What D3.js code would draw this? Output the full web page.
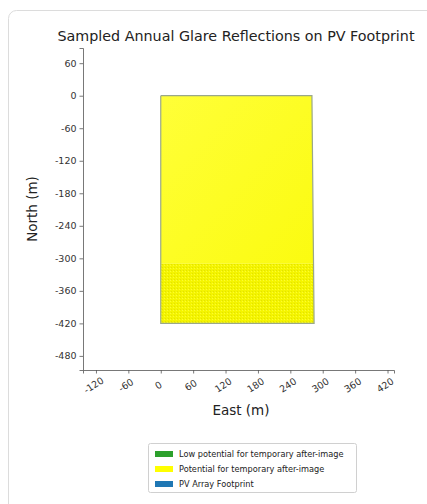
<!DOCTYPE html>
<html>
<head>
<meta charset="utf-8">
<script src="https://cdn.jsdelivr.net/npm/d3@7"></script>
<style>
  body { margin: 0; background: #fff; }
  svg { display: block; font-family: "DejaVu Sans", sans-serif; }
</style>
</head>
<body>
<svg id="chart" width="427" height="504"></svg>
<script>
// footprint outline (east, north in metres)
var footprintEast = [0, 280, 284, 0, 0];
var footprintNorth = [0, 0, -420, -420, 0];

// glare reflection zones
var upperZoneEast = [0, 280, 283, 0];
var upperZoneNorth = [0, 0, -310, -310];
var lowerZoneEast = [0, 283, 284, 0];
var lowerZoneNorth = [-310, -310, -420, -420];

var xTicks = [-120, -60, 0, 60, 120, 180, 240, 300, 360, 420];
var yTicks = [60, 0, -60, -120, -180, -240, -300, -360, -420, -480];

var legendLabels = ["Low potential for temporary after-image", "Potential for temporary after-image", "PV Array Footprint"];
var legendColors = ["#2ca02c", "#ffff00", "#1f77b4"];

var svg = d3.select("#chart");

// outer rounded frame
svg.append("rect")
	.attr("x", 8.5).attr("y", 10.5)
	.attr("width", 440).attr("height", 520)
	.attr("rx", 8)
	.attr("fill", "none")
	.attr("stroke", "#dcdcdc");

var x = d3.scaleLinear().domain([-144, 432]).range([83, 394]);
var y = d3.scaleLinear().domain([88, -506]).range([48, 370]);

var defs = svg.append("defs");
var pat = defs.append("pattern")
	.attr("id", "stipple")
	.attr("width", 3).attr("height", 3)
	.attr("patternUnits", "userSpaceOnUse");
pat.append("rect").attr("width", 3).attr("height", 3).attr("fill", "#f4f400");
pat.append("rect").attr("x", 0).attr("y", 0).attr("width", 1).attr("height", 1).attr("fill", "#e2e200");
pat.append("rect").attr("x", 2).attr("y", 1).attr("width", 1).attr("height", 1).attr("fill", "#fcfc30");

var grad = defs.append("linearGradient")
	.attr("id", "upperGrad")
	.attr("x1", 0).attr("y1", 0).attr("x2", 1).attr("y2", 1);
grad.append("stop").attr("offset", "0%").attr("stop-color", "#ffff38");
grad.append("stop").attr("offset", "100%").attr("stop-color", "#fbfb10");

function polyPoints(ex, no) {
	return ex.map(function(d, i) { return [x(d), y(no[i])]; });
}
var line = d3.line();

svg.append("path")
	.attr("d", line(polyPoints(upperZoneEast, upperZoneNorth)) + "Z")
	.attr("fill", "url(#upperGrad)");
svg.append("path")
	.attr("d", line(polyPoints(lowerZoneEast, lowerZoneNorth)) + "Z")
	.attr("fill", "url(#stipple)");
svg.append("path")
	.attr("d", line(polyPoints(footprintEast, footprintNorth)))
	.attr("fill", "none")
	.attr("stroke", "#9aa88a")
	.attr("stroke-width", 1.2);

// axes
var fmt = function(d) { return String(d); };
var yAxis = svg.append("g")
	.attr("transform", "translate(" + 83 + ",0)")
	.call(d3.axisLeft(y).tickValues(yTicks).tickFormat(fmt).tickSize(3.5).tickPadding(3));
var xAxis = svg.append("g")
	.attr("transform", "translate(0," + 370 + ")")
	.call(d3.axisBottom(x).tickValues(xTicks).tickFormat(fmt).tickSize(3.5).tickPadding(3));

[xAxis, yAxis].forEach(function(g) {
	g.select(".domain").attr("stroke", "#555").attr("stroke-width", 0.8);
	g.selectAll(".tick line").attr("stroke", "#555").attr("stroke-width", 0.8);
	g.selectAll(".tick text").attr("fill", "#333").style("font-size", "9.5px").style("font-family", "DejaVu Sans, sans-serif");
});

xAxis.selectAll(".tick text")
	.attr("text-anchor", "middle")
	.attr("dy", null)
	.attr("y", 0)
	.attr("transform", "translate(-1,18) rotate(-33)");

// titles
svg.append("text")
	.attr("x", 236).attr("y", 41)
	.attr("text-anchor", "middle")
	.style("font-size", "14.3px")
	.attr("fill", "#222")
	.text("Sampled Annual Glare Reflections on PV Footprint");

svg.append("text")
	.attr("transform", "translate(37,209) rotate(-90)")
	.attr("text-anchor", "middle")
	.style("font-size", "13.5px")
	.attr("fill", "#222")
	.text("North (m)");

svg.append("text")
	.attr("x", 241).attr("y", 415)
	.attr("text-anchor", "middle")
	.style("font-size", "13.5px")
	.attr("fill", "#222")
	.text("East (m)");

// legend
var lg = svg.append("g").attr("transform", "translate(148,443)");
lg.append("rect")
	.attr("x", 0.5).attr("y", 0.5)
	.attr("width", 208).attr("height", 49)
	.attr("rx", 2)
	.attr("fill", "#fff")
	.attr("stroke", "#d0d0d0");
var items = lg.selectAll("g.item")
	.data(legendLabels)
	.enter()
	.append("g")
	.attr("class", "item")
	.attr("transform", function(d, i) { return "translate(7," + (8 + i * 15) + ")"; });
items.append("rect")
	.attr("width", 18).attr("height", 6)
	.attr("fill", function(d, i) { return legendColors[i]; });
items.append("text")
	.attr("x", 24).attr("y", 6)
	.style("font-size", "8.2px")
	.attr("fill", "#222")
	.text(function(d) { return d; });
</script>
</body>
</html>
